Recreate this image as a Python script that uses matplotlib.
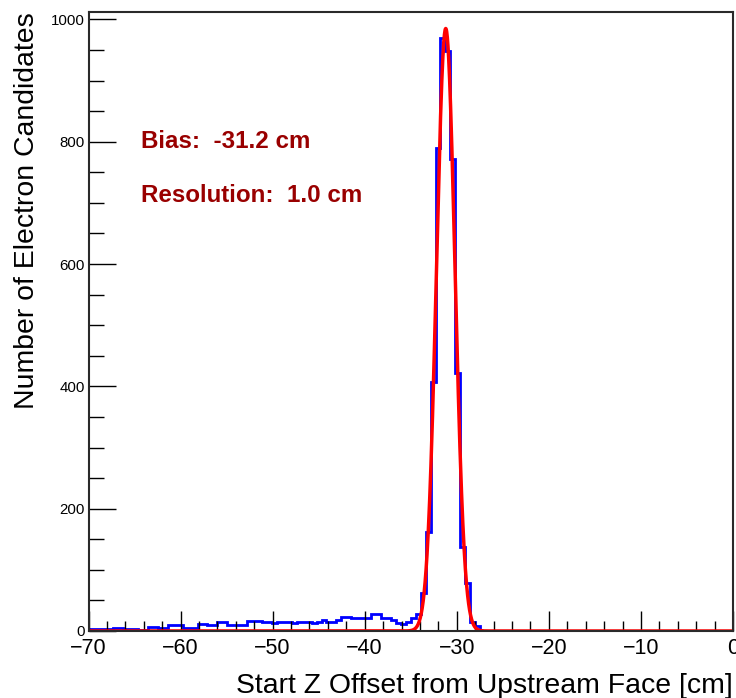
import numpy as np
import matplotlib
matplotlib.use("Agg")
import matplotlib.pyplot as plt
from matplotlib.ticker import MultipleLocator, FixedLocator

# ---------------- data ----------------
x_min, x_max = -70.0, 0.0
n_bins = 130

tail_counts = [3, 3, 3, 4, 4, 5, 5, 3, 4, 4, 1, 1, 7, 7, 5, 5, 9, 9, 9, 5,
               5, 5, 12, 12, 10, 10, 14, 14, 9, 9, 9, 9, 16, 16, 16, 14, 14, 13, 14, 14,
               14, 13, 14, 14, 14, 13, 14, 18, 14, 14, 18, 23, 23, 22, 21, 21, 21, 28, 28, 21,
               21, 18, 13]
peak_counts = [12, 14, 21, 28, 62, 162, 407, 790, 970, 948, 771, 421, 137, 78, 15, 8, 0]
counts = tail_counts + peak_counts + [0] * (n_bins - len(tail_counts) - len(peak_counts))

fit_amplitude = 985.0
fit_mean = -31.2
fit_sigma = 1.0

bias_text = "Bias:  -31.2 cm"
resolution_text = "Resolution:  1.0 cm"
x_label = "Start Z Offset from Upstream Face [cm]"
y_label = "Number of Electron Candidates"
x_ticks = [-70, -60, -50, -40, -30, -20, -10, 0]
y_ticks = [0, 200, 400, 600, 800, 1000]
y_max = 1012

# ---------------- figure ----------------
plt.rcParams['font.family'] = ['Liberation Sans', 'DejaVu Sans']
W, H = 736, 698
fig = plt.figure(figsize=(W / 100, H / 100), dpi=100)
ax = fig.add_axes([88.5 / W, 1 - 631 / H, (733 - 88.5) / W, (631 - 12) / H])

edges = np.linspace(x_min, x_max, n_bins + 1)
ax.stairs(counts, edges, color='#0000ff', lw=2.0, baseline=0)

xf = np.linspace(x_min, x_max, 2000)
yf = fit_amplitude * np.exp(-0.5 * ((xf - fit_mean) / fit_sigma) ** 2)
ax.plot(xf, yf, color='#ff0000', lw=2.5)

ax.set_xlim(x_min, x_max)
ax.set_ylim(0, y_max)

ax.xaxis.set_major_locator(FixedLocator(x_ticks))
ax.xaxis.set_minor_locator(MultipleLocator(2))
ax.yaxis.set_major_locator(FixedLocator(y_ticks))
ax.yaxis.set_minor_locator(MultipleLocator(50))
ax.set_xticklabels(["\u2212%d" % abs(t) if t < 0 else "%d" % t for t in x_ticks])
ax.set_yticklabels([str(t) for t in y_ticks])

ax.tick_params(axis='x', which='major', direction='in', length=14.4, width=1.0,
               labelsize=15.5, pad=5, top=False)
ax.tick_params(axis='x', which='minor', direction='in', length=7.2, width=1.0, top=False)
ax.tick_params(axis='y', which='major', direction='in', length=19.5, width=1.0,
               labelsize=10.8, pad=2.5, right=False)
ax.tick_params(axis='y', which='minor', direction='in', length=10.5, width=1.0, right=False)

for s in ax.spines.values():
    s.set_color('#2a2a2a')
    s.set_linewidth(1.5)

fig.text(733 / W, 1 - 693 / H, x_label, ha='right', va='baseline', fontsize=20.4)
fig.text(27 / W, 1 - 12 / H, y_label, ha='center', va='top', rotation=90, fontsize=20.4)

fig.text(141 / W, 1 - 141 / H, bias_text, ha='left', va='center', fontsize=17.4,
         fontweight='bold', color='#990000')
fig.text(141 / W, 1 - 195 / H, resolution_text, ha='left', va='center', fontsize=17.4,
         fontweight='bold', color='#990000')

fig.savefig('out.png', dpi=100)
